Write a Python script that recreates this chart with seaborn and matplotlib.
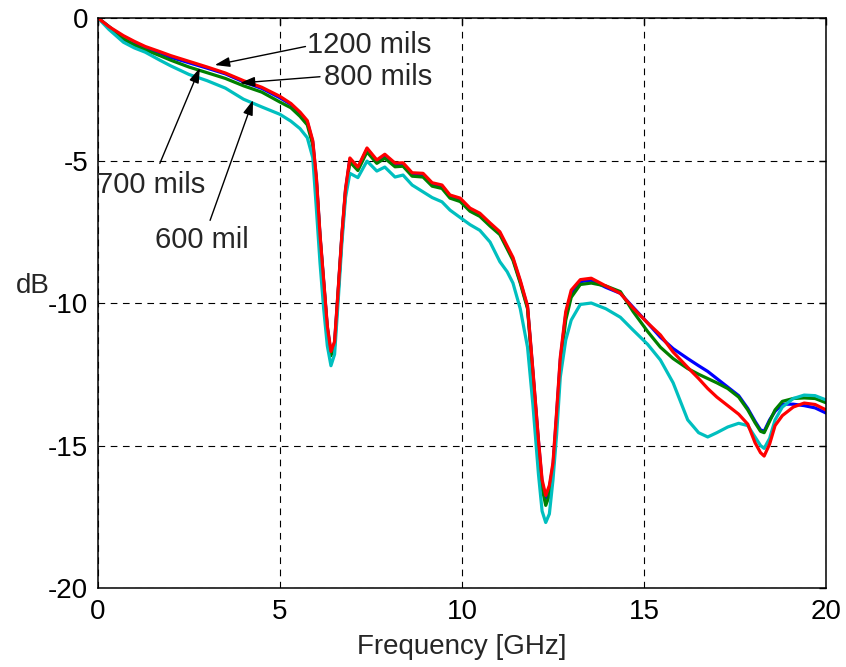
import matplotlib
matplotlib.use("Agg")
import matplotlib.pyplot as plt
import seaborn as sns

# frequency grid (GHz) shared by all traces
freq = [0, 0.3, 0.7, 1.0, 1.3, 1.7, 2.0, 2.5, 3.0, 3.5,
        4.0, 4.5, 5.0, 5.3, 5.55, 5.75, 5.9, 6.0, 6.1, 6.2,
        6.3, 6.4, 6.5, 6.6, 6.7, 6.8, 6.92, 7.14, 7.39, 7.66,
        7.88, 8.16, 8.38, 8.63, 8.93, 9.18, 9.45, 9.67, 9.95, 10.22,
        10.49, 10.77, 11.04, 11.24, 11.4, 11.6, 11.8, 11.95, 12.1, 12.2,
        12.3, 12.4, 12.5, 12.6, 12.7, 12.85, 13.0, 13.25, 13.55, 13.95,
        14.35, 14.7, 15.1, 15.45, 15.8, 16.2, 16.5, 16.75, 17.0, 17.3,
        17.6, 17.85, 18.05, 18.2, 18.3, 18.45, 18.6, 18.8, 19.1, 19.4, 19.7, 20.0]

db_1200 = [0, -0.3, -0.62, -0.82, -1.0, -1.18, -1.32, -1.52, -1.72, -1.93,
           -2.2, -2.43, -2.75, -3.0, -3.3, -3.6, -4.3, -5.6, -7.6, -9.2,
           -10.8, -11.7, -11.35, -9.5, -7.6, -6.0, -4.91, -5.23, -4.56, -4.98,
           -4.78, -5.09, -5.08, -5.43, -5.45, -5.78, -5.86, -6.21, -6.32, -6.67,
           -6.85, -7.19, -7.5, -8.0, -8.4, -9.2, -10.1, -12.4, -14.8, -16.2,
           -16.75, -16.4, -15.6, -13.8, -11.9, -10.3, -9.55, -9.18, -9.13, -9.4,
           -9.66, -10.18, -10.7, -11.12, -11.72, -12.26, -12.65, -13.0, -13.3, -13.6,
           -13.9, -14.25, -14.9, -15.25, -15.37, -14.95, -14.3, -13.95, -13.65, -13.51, -13.56, -13.75]

db_800 = [0, -0.3, -0.75, -0.92, -1.06, -1.22, -1.38, -1.57, -1.76, -1.96,
          -2.24, -2.47, -2.8, -3.03, -3.33, -3.65, -4.35, -5.65, -7.65, -9.25,
          -10.85, -11.75, -11.4, -9.55, -7.65, -6.05, -4.96, -5.27, -4.6, -5.02,
          -4.82, -5.13, -5.12, -5.47, -5.5, -5.82, -5.9, -6.25, -6.37, -6.72,
          -6.9, -7.24, -7.55, -8.05, -8.45, -9.25, -10.15, -12.45, -14.85, -16.3,
          -16.85, -16.5, -15.7, -13.9, -12.0, -10.4, -9.65, -9.25, -9.2, -9.45,
          -9.66, -10.15, -10.7, -11.2, -11.6, -11.95, -12.2, -12.4, -12.65, -12.95,
          -13.25, -13.7, -14.15, -14.45, -14.5, -14.1, -13.8, -13.55, -13.55, -13.6, -13.68, -13.86]

db_700 = [0, -0.3, -0.72, -0.95, -1.12, -1.32, -1.48, -1.72, -1.92, -2.12,
          -2.38, -2.6, -2.95, -3.15, -3.45, -3.75, -4.45, -5.75, -7.7, -9.3,
          -10.9, -11.85, -11.5, -9.6, -7.7, -6.1, -5.05, -5.35, -4.7, -5.1,
          -4.92, -5.22, -5.2, -5.55, -5.58, -5.9, -5.98, -6.32, -6.44, -6.78,
          -6.96, -7.3, -7.6, -8.1, -8.5, -9.3, -10.2, -12.55, -15.0, -16.5,
          -17.1, -16.75, -15.9, -14.1, -12.2, -10.6, -9.8, -9.35, -9.3, -9.4,
          -9.6, -10.3, -11.0, -11.55, -11.95, -12.3, -12.5, -12.65, -12.8, -13.0,
          -13.3, -13.75, -14.2, -14.5, -14.55, -14.15, -13.75, -13.45, -13.35, -13.33, -13.35, -13.5]

db_600 = [0, -0.4, -0.85, -1.05, -1.2, -1.48, -1.68, -1.98, -2.2, -2.46,
          -2.85, -3.12, -3.38, -3.62, -3.88, -4.2, -4.9, -6.7, -8.6, -10.2,
          -11.5, -12.2, -11.8, -9.9, -7.9, -6.3, -5.45, -5.6, -5.02, -5.37,
          -5.23, -5.58, -5.51, -5.86, -6.1, -6.3, -6.45, -6.74, -7.0, -7.25,
          -7.45, -7.86, -8.55, -8.9, -9.3, -10.2, -11.55, -13.6, -16.0, -17.3,
          -17.7, -17.4, -16.2, -14.6, -12.6, -11.3, -10.6, -10.05, -10.0, -10.2,
          -10.5, -10.95, -11.45, -12.0, -12.8, -14.1, -14.55, -14.7, -14.55, -14.35,
          -14.22, -14.3, -14.7, -15.0, -15.1, -14.75, -14.1, -13.65, -13.35, -13.23, -13.25, -13.4]

sns.set_style("white")
plt.rcParams['font.family'] = ['Liberation Sans', 'DejaVu Sans']

fig = plt.figure(figsize=(8.46, 6.67), dpi=100)
ax = fig.add_axes([0.1158, 0.1184, 0.8606, 0.8546])

lw = 2.3
sns.lineplot(x=freq, y=db_800, color='#0000ff', lw=lw, ax=ax)
sns.lineplot(x=freq, y=db_700, color='#008000', lw=lw, ax=ax)
sns.lineplot(x=freq, y=db_600, color='#00bfbf', lw=lw, ax=ax)
sns.lineplot(x=freq, y=db_1200, color='#ff0000', lw=lw, ax=ax)

ax.set_xlim(0, 20)
ax.set_ylim(-20, 0)
ax.set_xticks([0, 5, 10, 15, 20])
ax.set_yticks([-20, -15, -10, -5, 0])
ax.set_xticklabels(['0', '5', '10', '15', '20'])
ax.set_yticklabels(['-20', '-15', '-10', '-5', '0'])

ax.grid(True, color='k', lw=0.8, linestyle=(0, (6, 5)))
for s in ax.spines.values():
    s.set_color('k')
    s.set_linewidth(1.1)
ax.tick_params(direction='in', length=5, width=1, top=True, right=True,
               labelsize=20, colors='k')
ax.tick_params(axis='x', pad=8)
ax.tick_params(axis='y', pad=7)

ax.set_xlabel('Frequency [GHz]', fontsize=20)
ax.xaxis.set_label_coords(0.5, -0.08)
ax.set_ylabel('dB', fontsize=20, rotation=0, ha='center', va='center')
ax.yaxis.set_label_coords(-0.09, 0.53)

arrow = dict(arrowstyle='-|>,head_length=0.9,head_width=0.3', color='k', lw=1,
             shrinkA=0, shrinkB=0)
ax.annotate('', xy=(3.21, -1.65), xytext=(5.7, -1.0), arrowprops=arrow)
ax.annotate('', xy=(3.9, -2.28), xytext=(6.1, -2.06), arrowprops=arrow)
ax.annotate('', xy=(2.8, -1.75), xytext=(1.7, -5.1), arrowprops=arrow)
ax.annotate('', xy=(4.26, -2.88), xytext=(3.08, -7.1), arrowprops=arrow)

ax.text(5.75, -0.95, '1200 mils', fontsize=21, ha='left', va='center')
ax.text(6.2, -2.07, '800 mils', fontsize=21, ha='left', va='center')
ax.text(-0.03, -5.86, '700 mils', fontsize=21, ha='left', va='center')
ax.text(1.57, -7.8, '600 mil', fontsize=21, ha='left', va='center')

fig.savefig('out.png', dpi=100)
